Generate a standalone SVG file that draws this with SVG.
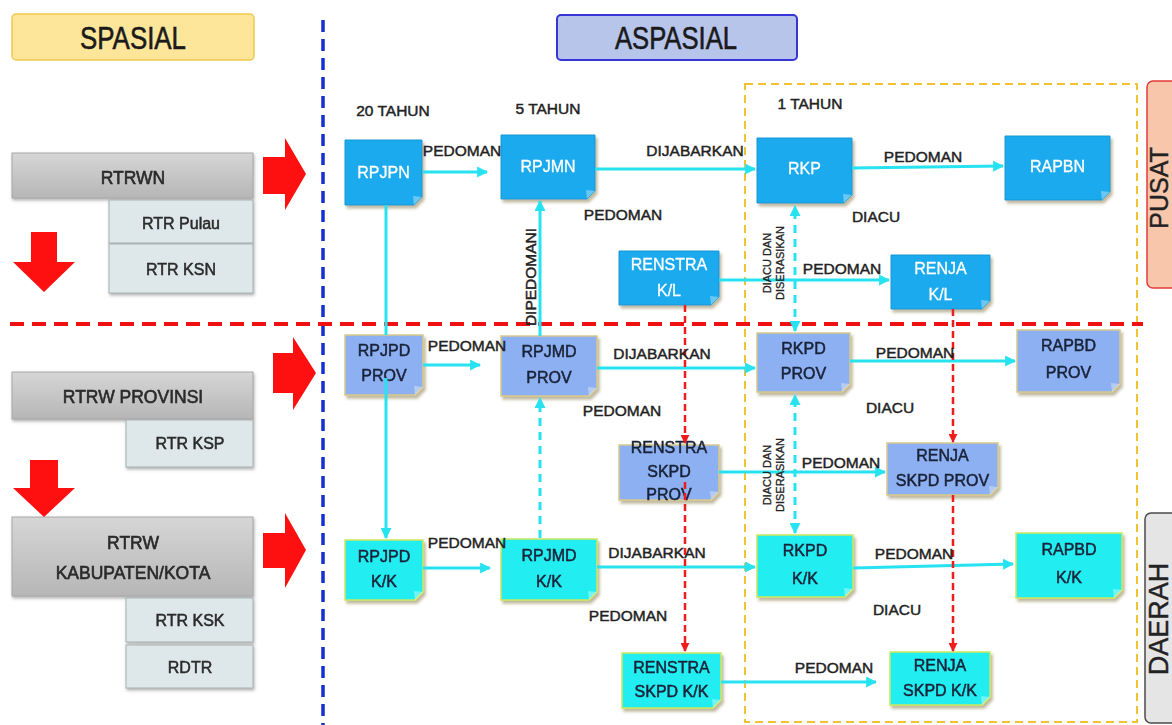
<svg xmlns="http://www.w3.org/2000/svg" width="1172" height="725" viewBox="0 0 1172 725">
<defs>
<style>
text{font-family:"Liberation Sans",Arial,sans-serif;text-anchor:middle}
.lbl{font-size:15.5px;fill:#222;stroke:#222;stroke-width:0.45}
.rot{font-size:11px;fill:#222;stroke:#222;stroke-width:0.3}
.nt{font-size:16px}
.w{fill:#ffffff;stroke:#ffffff;stroke-width:0.3}
.d{fill:#1a2238;stroke:#1a2238;stroke-width:0.5}
.pusat{fill:#1caaee;stroke:#1798d4;stroke-width:1}
.prov{fill:#8db0f2;stroke:#d8c98c;stroke-width:1.5}
.kk{fill:#22eef2;stroke:#cde85c;stroke-width:1.5}
.fold{fill:#ffffff;fill-opacity:0.35}
.gray{fill:url(#gg);stroke:#a8a8a8;stroke-width:1}
.sub{fill:#dee7ea;stroke:#a7b1b4;stroke-width:1}
.lt{font-size:17.5px;fill:#2a2a2a;stroke:#2a2a2a;stroke-width:0.6}
.st{font-size:16px;fill:#2a2a2a;stroke:#2a2a2a;stroke-width:0.5}
.hd{font-size:32px;fill:#1a1a1a;stroke:#1a1a1a;stroke-width:0.6}
.tag{fill:#222;stroke:#222;stroke-width:0.4}
.cy{stroke:#27e2f0;stroke-width:3;fill:none}
.dash{stroke-dasharray:8 6}
.rd{stroke:#ee1c1c;stroke-width:2.5;stroke-dasharray:7 4;fill:none}
.big{fill:#ff1010}
</style>
<linearGradient id="gg" x1="0" y1="0" x2="0" y2="1">
<stop offset="0" stop-color="#d6d6d6"/>
<stop offset="1" stop-color="#b6b6b6"/>
</linearGradient>
<filter id="sh" x="-10%" y="-10%" width="130%" height="140%">
<feDropShadow dx="2" dy="3" stdDeviation="1.5" flood-color="#8a8050" flood-opacity="0.55"/>
</filter>
<filter id="shg" x="-10%" y="-10%" width="130%" height="140%">
<feDropShadow dx="1" dy="2" stdDeviation="1.5" flood-color="#666" flood-opacity="0.5"/>
</filter>
<marker id="ac" viewBox="0 0 10 10" refX="9" refY="5" markerWidth="11" markerHeight="11" markerUnits="userSpaceOnUse" orient="auto-start-reverse">
<path d="M0,0L10,5L0,10Z" fill="#27e2f0"/>
</marker>
<marker id="ar" viewBox="0 0 10 10" refX="9" refY="5" markerWidth="9" markerHeight="9" markerUnits="userSpaceOnUse" orient="auto">
<path d="M0,0L10,5L0,10Z" fill="#ee1c1c"/>
</marker>
</defs>

<rect width="1172" height="725" fill="#ffffff"/>

<!-- headers -->
<g id="spasial">
<rect x="12" y="14" width="242" height="46" rx="4" fill="#fde59a" stroke="#f0c850" stroke-width="1.5"/>
<text class="hd" x="133" y="49" textLength="106" lengthAdjust="spacingAndGlyphs">SPASIAL</text>
</g>
<g id="aspasial">
<rect x="557" y="15" width="240" height="45" rx="4" fill="#b7c5ea" stroke="#3535d8" stroke-width="2"/>
<text class="hd" x="676" y="49" textLength="122" lengthAdjust="spacingAndGlyphs">ASPASIAL</text>
</g>

<!-- dividers -->
<g id="dividers">
<path d="M323,20V725" stroke="#1530d0" stroke-width="3.5" stroke-dasharray="12 7" fill="none"/>
<rect x="745" y="84" width="392" height="638" fill="none" stroke="#f2c230" stroke-width="2" stroke-dasharray="8 5"/>
<path d="M10,324H1143" stroke="#ee1111" stroke-width="4" stroke-dasharray="14 8" fill="none"/>
</g>

<g id="pusat-tag">
<rect x="1147" y="81" width="40" height="207" rx="6" fill="#f7c6ab" stroke="#e23b3b" stroke-width="1.5"/>
<text class="tag" transform="translate(1168,188) rotate(-90)" font-size="25">PUSAT</text>
</g>
<g id="daerah-tag">
<rect x="1145" y="513" width="40" height="210" rx="6" fill="#e5e5e5" stroke="#4a4a4a" stroke-width="1.5"/>
<text class="tag" transform="translate(1168,619) rotate(-90)" font-size="27">DAERAH</text>
</g>

<!-- left spasial hierarchy -->
<g id="rtrwn" filter="url(#shg)">
<rect class="gray" x="12" y="153" width="241" height="45"/>
<text class="lt" x="133" y="184">RTRWN</text>
</g>
<g id="rtr-pulau" filter="url(#shg)">
<rect class="sub" x="109" y="200" width="144" height="43"/>
<text class="st" x="181" y="229">RTR Pulau</text>
</g>
<g id="rtr-ksn" filter="url(#shg)">
<rect class="sub" x="109" y="244" width="144" height="49"/>
<text class="st" x="181" y="275">RTR KSN</text>
</g>
<g id="rtrw-provinsi" filter="url(#shg)">
<rect class="gray" x="12" y="372" width="241" height="47"/>
<text class="lt" x="133" y="403">RTRW PROVINSI</text>
</g>
<g id="rtr-ksp" filter="url(#shg)">
<rect class="sub" x="126" y="420" width="127" height="47"/>
<text class="st" x="190" y="449">RTR KSP</text>
</g>
<g id="rtrw-kabkota" filter="url(#shg)">
<rect class="gray" x="12" y="517" width="241" height="79"/>
<text class="lt" x="133" y="549">RTRW</text>
<text class="lt" x="133" y="579">KABUPATEN/KOTA</text>
</g>
<g id="rtr-ksk" filter="url(#shg)">
<rect class="sub" x="126" y="598" width="127" height="44"/>
<text class="st" x="190" y="626">RTR KSK</text>
</g>
<g id="rdtr" filter="url(#shg)">
<rect class="sub" x="126" y="645" width="127" height="43"/>
<text class="st" x="190" y="673">RDTR</text>
</g>

<!-- big red arrows -->
<g id="big-arrows">
<path class="big" d="M31,232H57V262H75L44,292L13,262H31Z"/>
<path class="big" d="M30,460H58V488H75L44,517L13,488H30Z"/>
<path class="big" d="M263,157H285V138L306,174L285,210V194H263Z"/>
<path class="big" d="M273,353H293V337L316,373L293,410V393H273Z"/>
<path class="big" d="M263,533H285V513L306,550L285,588V568H263Z"/>
</g>

<!-- period labels -->
<g id="periods">
<text class="lbl" x="393" y="116">20 TAHUN</text>
<text class="lbl" x="548" y="114">5 TAHUN</text>
<text class="lbl" x="810" y="109">1 TAHUN</text>
</g>

<!-- nodes: pusat -->
<g id="rpjpn" transform="translate(345,140)" filter="url(#sh)">
<path class="pusat" d="M0,0H77V57L69,65H0Z"/><path class="fold" d="M77,57L69,65L68,56Z"/>
<text class="nt w" x="38.5" y="37.5">RPJPN</text>
</g>
<g id="rpjmn" transform="translate(501,135)" filter="url(#sh)">
<path class="pusat" d="M0,0H94V56L86,64H0Z"/><path class="fold" d="M94,56L86,64L85,55Z"/>
<text class="nt w" x="47" y="36.5">RPJMN</text>
</g>
<g id="rkp" transform="translate(757,138)" filter="url(#sh)">
<path class="pusat" d="M0,0H95V57L87,65H0Z"/><path class="fold" d="M95,57L87,65L86,56Z"/>
<text class="nt w" x="47.5" y="35.5">RKP</text>
</g>
<g id="rapbn" transform="translate(1005,136)" filter="url(#sh)">
<path class="pusat" d="M0,0H105V56L97,64H0Z"/><path class="fold" d="M105,56L97,64L96,55Z"/>
<text class="nt w" x="52.5" y="35.5">RAPBN</text>
</g>
<g id="renstra-kl" transform="translate(619,251)" filter="url(#sh)">
<path class="pusat" d="M0,0H100V46L92,54H0Z"/><path class="fold" d="M100,46L92,54L91,45Z"/>
<text class="nt w" x="50" y="18.5">RENSTRA</text>
<text class="nt w" x="50" y="44.5">K/L</text>
</g>
<g id="renja-kl" transform="translate(891,255)" filter="url(#sh)">
<path class="pusat" d="M0,0H99V46L91,54H0Z"/><path class="fold" d="M99,46L91,54L90,45Z"/>
<text class="nt w" x="49.5" y="18.5">RENJA</text>
<text class="nt w" x="49.5" y="44.5">K/L</text>
</g>

<!-- nodes: provinsi -->
<g id="rpjpd-prov" transform="translate(345,335)" filter="url(#sh)">
<path class="prov" d="M0,0H78V52L70,60H0Z"/><path class="fold" d="M78,52L70,60L69,51Z"/>
<text class="nt d" x="39" y="20.5">RPJPD</text>
<text class="nt d" x="39" y="45.5">PROV</text>
</g>
<g id="rpjmd-prov" transform="translate(501,336)" filter="url(#sh)">
<path class="prov" d="M0,0H96V52L88,60H0Z"/><path class="fold" d="M96,52L88,60L87,51Z"/>
<text class="nt d" x="48" y="20.5">RPJMD</text>
<text class="nt d" x="48" y="46.5">PROV</text>
</g>
<g id="rkpd-prov" transform="translate(757,333)" filter="url(#sh)">
<path class="prov" d="M0,0H93V51L85,59H0Z"/><path class="fold" d="M93,51L85,59L84,50Z"/>
<text class="nt d" x="46.5" y="20.5">RKPD</text>
<text class="nt d" x="46.5" y="45.5">PROV</text>
</g>
<g id="rapbd-prov" transform="translate(1017,330)" filter="url(#sh)">
<path class="prov" d="M0,0H103V54L95,62H0Z"/><path class="fold" d="M103,54L95,62L94,53Z"/>
<text class="nt d" x="51.5" y="20.5">RAPBD</text>
<text class="nt d" x="51.5" y="47.5">PROV</text>
</g>
<g id="renstra-skpd-prov" transform="translate(619,445)" filter="url(#sh)">
<path class="prov" d="M0,0H100V47L92,55H0Z"/><path class="fold" d="M100,47L92,55L91,46Z"/>
<text class="nt d" x="50" y="7.5">RENSTRA</text>
<text class="nt d" x="50" y="31.5">SKPD</text>
<text class="nt d" x="50" y="54.5">PROV</text>
</g>
<g id="renja-skpd-prov" transform="translate(887,443)" filter="url(#sh)">
<path class="prov" d="M0,0H111V44L103,52H0Z"/><path class="fold" d="M111,44L103,52L102,43Z"/>
<text class="nt d" x="55.5" y="17.5">RENJA</text>
<text class="nt d" x="55.5" y="42.5">SKPD PROV</text>
</g>

<!-- nodes: kabupaten/kota -->
<g id="rpjpd-kk" transform="translate(345,540)" filter="url(#sh)">
<path class="kk" d="M0,0H78V52L70,60H0Z"/><path class="fold" d="M78,52L70,60L69,51Z"/>
<text class="nt d" x="39" y="21.5">RPJPD</text>
<text class="nt d" x="39" y="46.5">K/K</text>
</g>
<g id="rpjmd-kk" transform="translate(501,539)" filter="url(#sh)">
<path class="kk" d="M0,0H96V53L88,61H0Z"/><path class="fold" d="M96,53L88,61L87,52Z"/>
<text class="nt d" x="48" y="21.5">RPJMD</text>
<text class="nt d" x="48" y="47.5">K/K</text>
</g>
<g id="rkpd-kk" transform="translate(757,535)" filter="url(#sh)">
<path class="kk" d="M0,0H96V54L88,62H0Z"/><path class="fold" d="M96,54L88,62L87,53Z"/>
<text class="nt d" x="48" y="20.5">RKPD</text>
<text class="nt d" x="48" y="48.5">K/K</text>
</g>
<g id="rapbd-kk" transform="translate(1016,533)" filter="url(#sh)">
<path class="kk" d="M0,0H106V57L98,65H0Z"/><path class="fold" d="M106,57L98,65L97,56Z"/>
<text class="nt d" x="53" y="21.5">RAPBD</text>
<text class="nt d" x="53" y="49.5">K/K</text>
</g>
<g id="renstra-skpd-kk" transform="translate(622,653)" filter="url(#sh)">
<path class="kk" d="M0,0H99V47L91,55H0Z"/><path class="fold" d="M99,47L91,55L90,46Z"/>
<text class="nt d" x="49.5" y="19.5">RENSTRA</text>
<text class="nt d" x="49.5" y="43.5">SKPD K/K</text>
</g>
<g id="renja-skpd-kk" transform="translate(890,652)" filter="url(#sh)">
<path class="kk" d="M0,0H100V45L92,53H0Z"/><path class="fold" d="M100,45L92,53L91,44Z"/>
<text class="nt d" x="50" y="18.5">RENJA</text>
<text class="nt d" x="50" y="43.5">SKPD K/K</text>
</g>

<!-- connectors -->
<g id="connectors">
<path class="cy" d="M423,172H487" marker-end="url(#ac)"/>
<path class="cy" d="M595,169H755" marker-end="url(#ac)"/>
<path class="cy" d="M852,168L1003,166" marker-end="url(#ac)"/>
<path class="cy" d="M719,280H889" marker-end="url(#ac)"/>
<path class="cy" d="M386,205V335"/>
<path class="cy" d="M386,378V538" marker-end="url(#ac)"/>
<path class="cy" d="M540,336V201" marker-end="url(#ac)"/>
<path class="cy" d="M423,365H480" marker-end="url(#ac)"/>
<path class="cy" d="M597,368H755" marker-end="url(#ac)"/>
<path class="cy" d="M850,361H1015" marker-end="url(#ac)"/>
<path class="cy" d="M719,472H885" marker-end="url(#ac)"/>
<path class="cy" d="M423,568H490" marker-end="url(#ac)"/>
<path class="cy" d="M597,567H755" marker-end="url(#ac)"/>
<path class="cy" d="M853,568L1013,564" marker-end="url(#ac)"/>
<path class="cy" d="M721,682H876" marker-end="url(#ac)"/>
<path class="cy dash" d="M540,538V398" marker-end="url(#ac)"/>
<path class="cy dash" d="M795,331V206" marker-start="url(#ac)" marker-end="url(#ac)"/>
<path class="cy dash" d="M795,533V395" marker-start="url(#ac)" marker-end="url(#ac)"/>
<path class="rd" d="M685,305V443" marker-end="url(#ar)"/>
<path class="rd" d="M685,482V651" marker-end="url(#ar)"/>
<path class="rd" d="M953,309V442" marker-end="url(#ar)"/>
<path class="rd" d="M953,495V651" marker-end="url(#ar)"/>
</g>

<!-- connector labels -->
<g id="labels">
<text class="lbl" x="462" y="156">PEDOMAN</text>
<text class="lbl" x="695" y="156">DIJABARKAN</text>
<text class="lbl" x="623" y="220">PEDOMAN</text>
<text class="lbl" x="923" y="162">PEDOMAN</text>
<text class="lbl" x="876" y="222">DIACU</text>
<text class="lbl" x="842" y="274">PEDOMAN</text>
<text class="lbl" transform="translate(536,277) rotate(-90)" font-size="14">DIPEDOMANI</text>
<text class="rot" transform="translate(771,263) rotate(-90)">DIACU DAN</text>
<text class="rot" transform="translate(784,263) rotate(-90)">DISERASIKAN</text>
<text class="lbl" x="467" y="351">PEDOMAN</text>
<text class="lbl" x="662" y="359">DIJABARKAN</text>
<text class="lbl" x="622" y="416">PEDOMAN</text>
<text class="lbl" x="915" y="358">PEDOMAN</text>
<text class="lbl" x="890" y="413">DIACU</text>
<text class="lbl" x="841" y="468">PEDOMAN</text>
<text class="rot" transform="translate(771,475) rotate(-90)">DIACU DAN</text>
<text class="rot" transform="translate(784,475) rotate(-90)">DISERASIKAN</text>
<text class="lbl" x="467" y="548">PEDOMAN</text>
<text class="lbl" x="657" y="558">DIJABARKAN</text>
<text class="lbl" x="628" y="621">PEDOMAN</text>
<text class="lbl" x="914" y="559">PEDOMAN</text>
<text class="lbl" x="897" y="615">DIACU</text>
<text class="lbl" x="834" y="673">PEDOMAN</text>
</g>
</svg>
